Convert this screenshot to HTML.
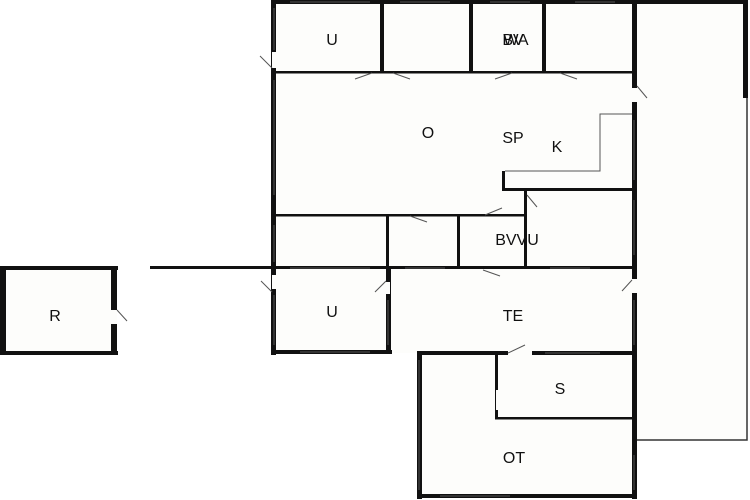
<!DOCTYPE html>
<html><head><style>html,body{margin:0;padding:0;background:#fff;}svg{display:block}</style></head>
<body>
<svg width="750" height="500" viewBox="0 0 750 500" xmlns="http://www.w3.org/2000/svg" font-family="Liberation Sans, sans-serif" font-size="16" fill="#111">
<rect x="0" y="0" width="750" height="500" fill="#fff"/>
<!-- terrace -->
<rect x="636" y="2" width="111" height="438" fill="#fdfdfb" stroke="#333" stroke-width="1.5"/>
<rect x="743" y="0" width="5" height="98" fill="#111"/>
<rect x="636" y="0" width="112" height="4" fill="#111"/>
<!-- floor fills -->
<rect x="274" y="2" width="360" height="266" fill="#fdfdfb"/>
<rect x="274" y="268" width="116" height="85" fill="#fdfdfb"/>
<rect x="390" y="268" width="244" height="85" fill="#fdfdfb"/>
<rect x="420" y="353" width="214" height="144" fill="#fdfdfb"/>
<rect x="3" y="268" width="112" height="85" fill="#fdfdfb"/>
<g fill="#111">
<!-- outer walls main -->
<rect x="271" y="0" width="366" height="4"/>
<rect x="271" y="0" width="5" height="355"/>
<rect x="632" y="0" width="5" height="499"/>
<rect x="271" y="350" width="121" height="4"/>
<rect x="386" y="266" width="5" height="88"/>
<rect x="417" y="351" width="220" height="4"/>
<rect x="417" y="351" width="5" height="148"/>
<rect x="417" y="494" width="220" height="4"/>
<!-- top rooms -->
<rect x="380" y="2" width="4" height="70"/>
<rect x="469" y="2" width="4" height="70"/>
<rect x="542" y="2" width="4" height="70"/>
<rect x="276" y="71" width="356" height="2.5"/>
<!-- middle -->
<rect x="276" y="214" width="250" height="2.5"/>
<rect x="386" y="214" width="3" height="54"/>
<rect x="457" y="214" width="3" height="54"/>
<rect x="524" y="190" width="3" height="78"/>
<rect x="502" y="188" width="130" height="3"/>
<rect x="502" y="171" width="3" height="20"/>
<rect x="271" y="266" width="366" height="3"/>
<rect x="150" y="266" width="122" height="3"/>
<!-- S -->
<rect x="495" y="353" width="3" height="66"/>
<rect x="495" y="417" width="137" height="2.5"/>
<!-- R -->
<rect x="0" y="266" width="118" height="4"/>
<rect x="0" y="266" width="6" height="89"/>
<rect x="0" y="351" width="118" height="4"/>
<rect x="111" y="266" width="6" height="89"/>
</g>
<!-- door openings / windows (white gaps) -->
<g fill="#fdfdfb">
<rect x="272" y="52" width="4" height="16"/>
<rect x="111" y="310" width="6" height="14"/>
<rect x="272" y="275" width="4" height="14"/>
<rect x="632" y="88" width="5" height="14"/>
<rect x="632" y="279" width="5" height="14"/>
<rect x="508" y="351" width="24" height="4"/>
<rect x="496" y="390" width="3" height="20"/>
<rect x="386" y="282" width="4" height="12"/>
</g>
<g stroke="#555" stroke-width="1" fill="none">
<!-- windows -->
<line x1="274" y1="8" x2="274" y2="50"/><line x1="274" y1="80" x2="274" y2="195"/>
<line x1="274" y1="225" x2="274" y2="262"/><line x1="274" y1="295" x2="274" y2="345"/>
<line x1="290" y1="2" x2="370" y2="2"/><line x1="400" y1="2" x2="450" y2="2"/><line x1="490" y1="2" x2="530" y2="2"/><line x1="575" y1="2" x2="615" y2="2"/>
<line x1="634" y1="120" x2="634" y2="180"/><line x1="634" y1="200" x2="634" y2="255"/><line x1="634" y1="300" x2="634" y2="345"/><line x1="634" y1="455" x2="634" y2="490"/>
<line x1="419" y1="360" x2="419" y2="490"/><line x1="440" y1="496" x2="510" y2="496"/><line x1="545" y1="353" x2="600" y2="353"/>
<line x1="300" y1="352" x2="370" y2="352"/><line x1="388" y1="300" x2="388" y2="345"/>
<line x1="290" y1="268" x2="370" y2="268"/><line x1="405" y1="268" x2="445" y2="268"/><line x1="550" y1="268" x2="590" y2="268"/>
<!-- kitchen counter -->
<polyline points="632,114 600,114 600,171 505,171"/>
<!-- door swings -->
<line x1="355" y1="79" x2="372" y2="73"/><line x1="393" y1="73" x2="410" y2="79"/>
<line x1="495" y1="79" x2="512" y2="73"/><line x1="560" y1="73" x2="577" y2="79"/>
<line x1="410" y1="216" x2="427" y2="222"/><line x1="485" y1="215" x2="502" y2="208"/>
<line x1="527" y1="195" x2="537" y2="207"/><line x1="637" y1="86" x2="647" y2="98"/>
<line x1="483" y1="270" x2="500" y2="276"/><line x1="260" y1="56" x2="272" y2="68"/>
<line x1="261" y1="281" x2="272" y2="292"/><line x1="375" y1="292" x2="386" y2="281"/>
<line x1="622" y1="291" x2="632" y2="280"/><line x1="508" y1="353" x2="525" y2="345"/>
<line x1="117" y1="310" x2="127" y2="321"/>
</g>
<g text-anchor="middle">
<text x="332" y="45">U</text>
<text x="513" y="45">BV</text><text x="516" y="45">WA</text>
<text x="428" y="138">O</text>
<text x="513" y="143">SP</text>
<text x="557" y="152">K</text>
<text x="517" y="245">BVVU</text>
<text x="332" y="317">U</text>
<text x="513" y="321">TE</text>
<text x="560" y="394">S</text>
<text x="514" y="463">OT</text>
<text x="55" y="321">R</text>
</g>
</svg>
</body></html>
